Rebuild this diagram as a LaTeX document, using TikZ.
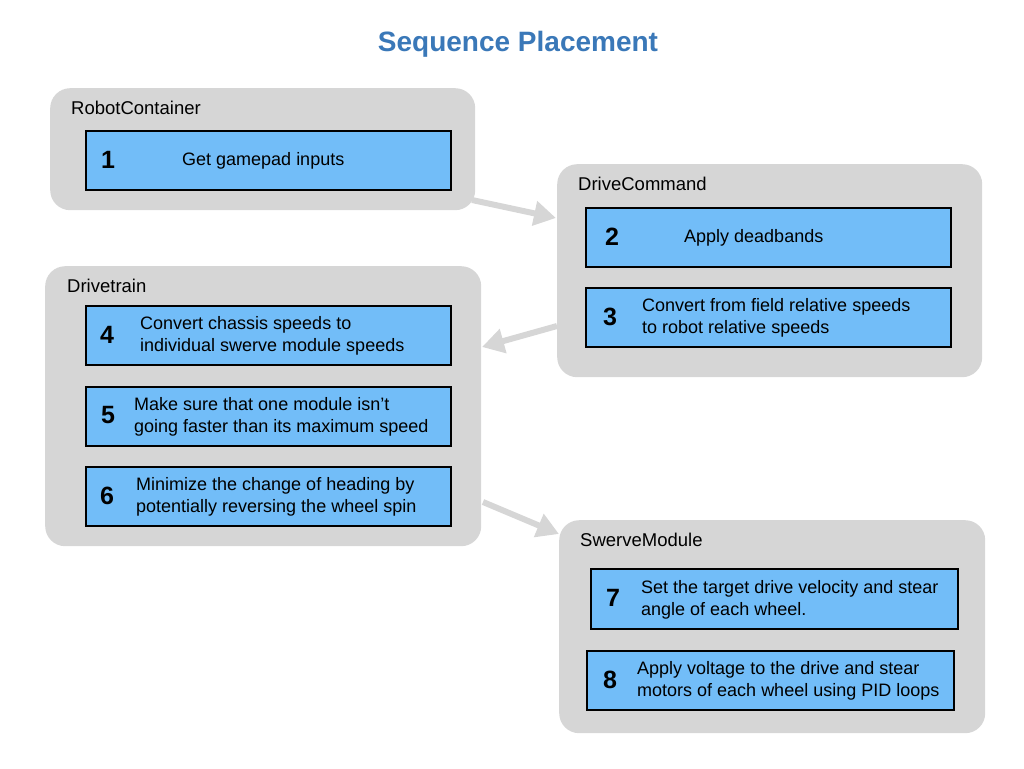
\documentclass[tikz,border=0pt]{standalone}
\usepackage{fontspec}
\setmainfont{Liberation Sans}
\usetikzlibrary{arrows.meta}
\definecolor{grpgray}{HTML}{D6D6D6}
\definecolor{boxblue}{HTML}{72BDF8}
\definecolor{titleblue}{HTML}{3A78B8}
\tikzset{
  grp/.style={draw=none, fill=grpgray, rounded corners=20pt, anchor=north west, inner sep=0pt},
  grplabel/.style={anchor=west, inner sep=0pt, font=\fontsize{18.5}{22}\selectfont},
  stepbox/.style={draw=black, line width=1.8pt, fill=boxblue, anchor=north west, minimum width=365pt, minimum height=59pt, inner sep=0pt},
  num/.style={inner sep=0pt, font=\fontsize{25}{28}\bfseries\selectfont},
  txt/.style={anchor=west, inner sep=0pt, align=left, font=\fontsize{18}{22}\selectfont},
  flow/.style={draw=grpgray, line width=6pt, -{Triangle[length=22pt,width=24pt]}}
}
\begin{document}
\begin{tikzpicture}[x=1pt,y=-1pt]
\useasboundingbox (0,0) rectangle (1024,768);
\node[font=\fontsize{28}{32}\bfseries\selectfont, text=titleblue] (title) at (518,44) {Sequence Placement};

% groups
\node[grp, minimum width=425pt, minimum height=122pt] (rc) at (50,88) {};
\node[grp, minimum width=425pt, minimum height=213pt] (dc) at (557,164) {};
\node[grp, minimum width=436pt, minimum height=280pt] (dt) at (45,266) {};
\node[grp, minimum width=426pt, minimum height=213pt] (sm) at (559,520) {};

\node[grplabel] (rcl) at (71,108) {RobotContainer};
\node[grplabel] (dcl) at (578,184) {DriveCommand};
\node[grplabel] (dtl) at (67,286) {Drivetrain};
\node[grplabel] (sml) at (580,540) {SwerveModule};

% step boxes
\node[stepbox] (b1) at (85,130) {};
\node[num] (n1) at (108,159.5) {1};
\node[txt] (t1) at (182,161) {Get gamepad inputs};

\node[stepbox] (b2) at (585,207) {};
\node[num] (n2) at (612,236.5) {2};
\node[txt] (t2) at (684,238) {Apply deadbands};

\node[stepbox] (b3) at (585,287) {};
\node[num] (n3) at (610,316.5) {3};
\node[txt] (t3) at (642,318) {Convert from field relative speeds\\to robot relative speeds};

\node[stepbox] (b4) at (85,305) {};
\node[num] (n4) at (107,334.5) {4};
\node[txt] (t4) at (140,336) {Convert chassis speeds to\\individual swerve module speeds};

\node[stepbox] (b5) at (85,386) {};
\node[num] (n5) at (108,415.5) {5};
\node[txt] (t5) at (134,417) {Make sure that one module isn’t\\going faster than its maximum speed};

\node[stepbox] (b6) at (85,466) {};
\node[num] (n6) at (107,495.5) {6};
\node[txt] (t6) at (136,497) {Minimize the change of heading by\\potentially reversing the wheel spin};

\node[stepbox, minimum width=367pt, minimum height=60pt] (b7) at (590,568) {};
\node[num] (n7) at (613,598) {7};
\node[txt] (t7) at (641,599.5) {Set the target drive velocity and stear\\angle of each wheel.};

\node[stepbox, minimum width=367pt] (b8) at (586,650) {};
\node[num] (n8) at (610,679.5) {8};
\node[txt] (t8) at (637,681) {Apply voltage to the drive and stear\\motors of each wheel using PID loops};

% connectors
\coordinate (a1s) at (472,200);
\coordinate (a1e) at (556,218);
\coordinate (a2s) at (557,326);
\coordinate (a2e) at (482,347);
\coordinate (a3s) at (483,502);
\coordinate (a3e) at (559,534);
\draw[flow] (a1s) -- (a1e);
\draw[flow] (a2s) -- (a2e);
\draw[flow] (a3s) -- (a3e);
\end{tikzpicture}
\end{document}
